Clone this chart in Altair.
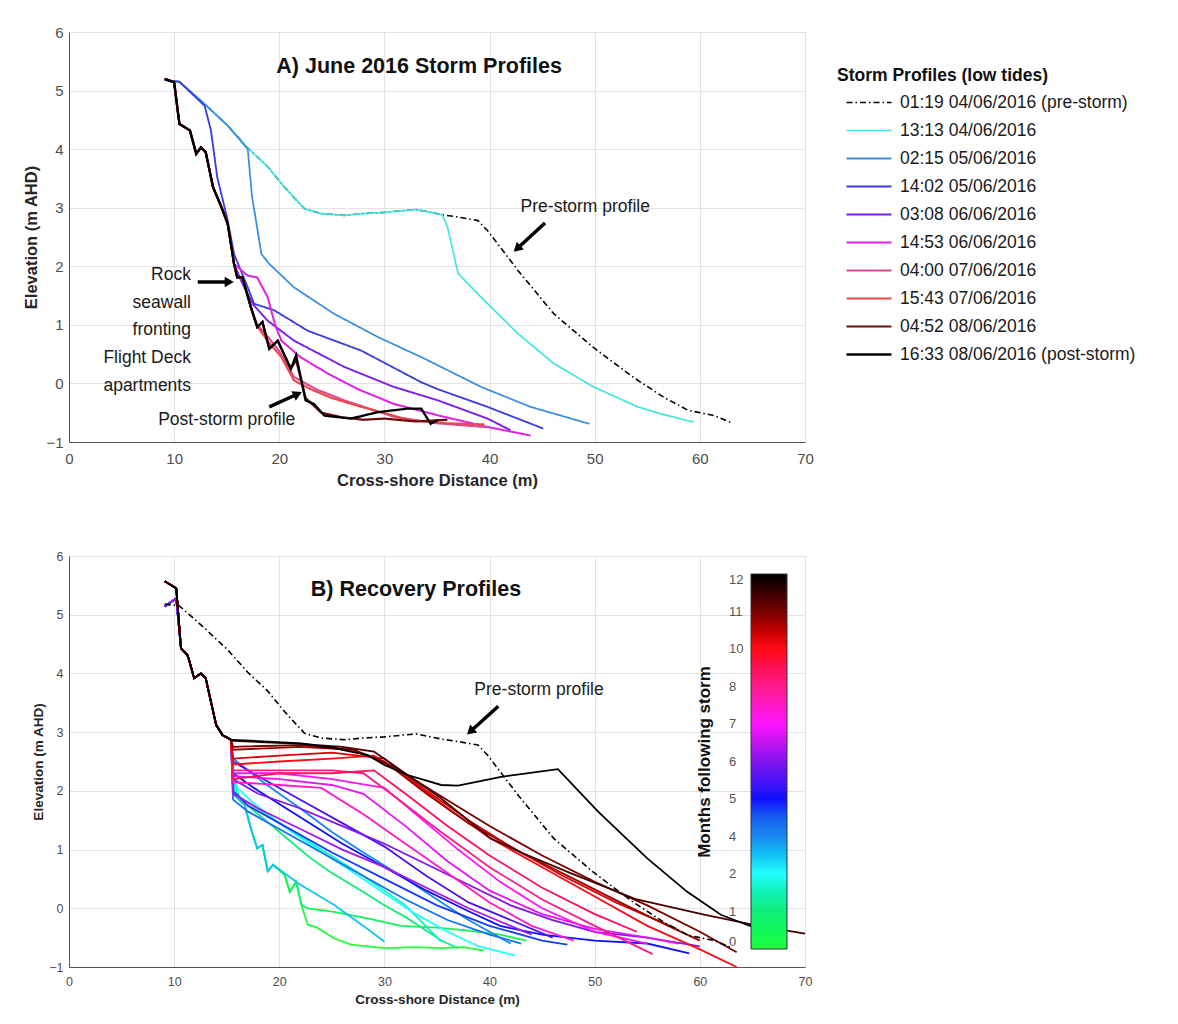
import json
import altair as alt
import pandas as pd

FONT = "Liberation Sans"

# ---------------- Panel A : storm profiles ----------------
storm_labels = ["01:19 04/06/2016 (pre-storm)", "13:13 04/06/2016", "02:15 05/06/2016",
                "14:02 05/06/2016", "03:08 06/06/2016", "14:53 06/06/2016",
                "04:00 07/06/2016", "15:43 07/06/2016", "04:52 08/06/2016",
                "16:33 08/06/2016 (post-storm)"]
storm_colors = ["#000000", "#3fe6e0", "#3a8fe3", "#3a3de0", "#7a1fe6", "#e020e6",
                "#e0449a", "#e84a4a", "#6b0d0d", "#000000"]
storm_dash = [[6, 3, 1.5, 3]] + [[1, 0]] * 9
storm_width = [1.6] + [2.3] * 9

pre_x = [9.1, 10.5, 12.9, 15.1, 17.0, 18.9, 20.5, 22.4, 24.0, 26.2, 28.0, 30.0, 33.0, 35.5,
         37.0, 38.9, 39.8, 42.7, 46.1, 49.9, 53.7, 56.6, 58.9, 61.4, 63.0]
pre_y = [5.18, 5.15, 4.77, 4.40, 4.02, 3.70, 3.35, 2.98, 2.90, 2.87, 2.90, 2.92, 2.97, 2.88,
         2.84, 2.78, 2.61, 1.93, 1.19, 0.61, 0.10, -0.24, -0.46, -0.55, -0.67]

cyan_x = [9.1, 10.5, 12.9, 15.1, 17.0, 18.9, 20.5, 22.4, 24.0, 26.2, 28.0, 30.0, 33.0, 35.5,
          36.0, 37.0, 39.2, 42.7, 46.1, 49.9, 54.1, 56.3, 59.4]
cyan_y = [5.18, 5.15, 4.77, 4.40, 4.02, 3.70, 3.35, 2.98, 2.90, 2.87, 2.90, 2.92, 2.97, 2.88,
          2.67, 1.88, 1.47, 0.85, 0.34, -0.06, -0.40, -0.52, -0.66]

lblue_x = [9.1, 10.5, 12.9, 15.1, 17.0, 17.4, 18.3, 19.05, 21.4, 25.2, 29.4, 33.5, 39.2, 43.9, 49.5]
lblue_y = [5.18, 5.15, 4.77, 4.40, 4.00, 3.20, 2.21, 2.04, 1.64, 1.19, 0.79, 0.45, -0.06, -0.40, -0.69]

blue_x = [9.1, 10.5, 12.9, 13.5, 14.1, 15.1, 15.7, 17.0, 17.6, 19.5, 22.7, 27.8, 33.5, 35.1, 39.8, 45.1]
blue_y = [5.18, 5.15, 4.74, 4.32, 3.52, 2.78, 2.21, 1.64, 1.36, 1.25, 0.90, 0.56, 0.02, -0.10, -0.40, -0.77]

cliff_x = [9.1, 10.0, 10.5, 11.5, 12.1, 12.55, 13.0, 13.7, 14.5, 15.1, 15.7]
cliff_y = [5.20, 5.14, 4.43, 4.32, 3.92, 4.03, 3.95, 3.35, 3.01, 2.72, 2.04]

purple_x = cliff_x + [16.5, 17.5, 18.9, 21.4, 26.2, 30.9, 35.1, 39.8, 42.0]
purple_y = cliff_y + [1.70, 1.35, 1.07, 0.73, 0.28, -0.06, -0.29, -0.60, -0.80]

magenta_x = cliff_x + [17.0, 17.9, 18.9, 19.6, 20.2, 22.0, 24.6, 27.5, 30.9, 35.2, 40.0, 43.9]
magenta_y = cliff_y + [1.84, 1.81, 1.47, 1.00, 0.73, 0.45, 0.17, -0.10, -0.35, -0.55, -0.75, -0.89]

pink_x = cliff_x + [16.0, 16.5, 17.3, 17.9, 18.9, 20.0, 21.4, 23.5, 26.2, 30.9, 35.0, 40.0]
pink_y = cliff_y + [1.81, 1.81, 1.30, 1.00, 0.80, 0.55, 0.11, -0.10, -0.29, -0.57, -0.68, -0.75]

red_x = cliff_x + [16.0, 16.5, 17.3, 17.9, 19.0, 20.2, 21.4, 23.0, 25.0, 27.8, 32.5, 36.0, 39.5]
red_y = cliff_y + [1.81, 1.81, 1.30, 0.98, 0.70, 0.45, 0.05, -0.10, -0.25, -0.40, -0.63, -0.68, -0.70]

dred_x = cliff_x + [16.0, 16.5, 17.3, 17.9, 18.4, 19.05, 19.85, 21.1, 21.6, 22.5, 24.0, 26.0, 28.0,
                    30.0, 33.0, 36.0]
dred_y = cliff_y + [1.81, 1.81, 1.30, 0.96, 1.05, 0.59, 0.73, 0.25, 0.40, -0.25, -0.50, -0.58, -0.62,
                    -0.60, -0.65, -0.62]

black_x = cliff_x + [16.0, 16.5, 17.3, 17.9, 18.4, 19.05, 19.85, 21.1, 21.6, 22.5, 23.3, 24.3, 26.8,
                     29.4, 32.2, 33.5, 34.4, 35.1]
black_y = cliff_y + [1.81, 1.81, 1.30, 0.96, 1.05, 0.59, 0.73, 0.25, 0.48, -0.29, -0.35, -0.55, -0.60,
                     -0.49, -0.43, -0.43, -0.69, -0.62]

storm_x = [pre_x, cyan_x, lblue_x, blue_x, purple_x, magenta_x, pink_x, red_x, dred_x, black_x]
storm_y = [pre_y, cyan_y, lblue_y, blue_y, purple_y, magenta_y, pink_y, red_y, dred_y, black_y]

# annotations panel A (data coordinates)
a_title = ["A) June 2016 Storm Profiles"]
a_title_xy = [33.3, 5.40]
a_note_text = ["Pre-storm profile", "Post-storm profile"]
a_note_x = [49.1, 15.0]
a_note_y = [3.01, -0.63]
seawall_text = ["Rock", "seawall", "fronting", "Flight Deck", "apartments"]
seawall_xy = [11.6, 1.85]
a_arrow_x = [12.24, 19.05, 45.27]
a_arrow_y = [1.73, -0.40, 2.74]
a_arrow_x2 = [15.24, 21.75, 42.61]
a_arrow_y2 = [1.73, -0.18, 2.30]
a_arrow_ang = [90, 65, 227]

# ---------------- Panel B : recovery profiles ----------------
cb_pos = [0, 0.5, 1, 1.5, 2, 2.5, 3, 3.5, 4, 4.5, 5, 5.5, 6, 6.5, 7, 7.5, 8, 8.5, 9, 9.5, 10]
cb_colors = ["#1eff3c", "#10f55a", "#10ee78", "#10f0b4", "#20ffff", "#10c4f2", "#1a88f0",
             "#1560f0", "#1010ff", "#4a12f5", "#8214f0", "#c414f0", "#ff14ff", "#ff18c4",
             "#ff1a8a", "#ff1058", "#ff0a14", "#c00000", "#7a0000", "#3a0000", "#000000"]
cb_labels = ["0", "1", "2", "4", "5", "6", "7", "8", "10", "11", "12"]

b_start_x = [9.1, 10.2, 10.65, 11.3, 11.9, 12.55, 13.0, 14.0, 14.6, 15.4]
b_start_y_hi = [5.57, 5.45, 4.43, 4.30, 3.92, 4.00, 3.92, 3.12, 2.95, 2.87]
b_start_y_lo = [5.14, 5.28, 4.43, 4.30, 3.92, 4.00, 3.92, 3.12, 2.95, 2.87]

b_pos = [0.0, 0.5, 1.0, 1.6, 2.0, 2.5, 3.0, 3.3, 3.7, 4.0, 4.5, 5.0, 5.3,
         5.8, 6.0, 6.5, 7.0, 7.5, 8.0, 8.3, 8.7, 9.0, 9.4, 10.0]
b_tail_x = [
    [15.6, 15.7, 16.7, 17.3, 17.9, 18.4, 18.9, 19.4, 20.5, 21.0, 21.6, 22.1, 22.7, 23.6, 25.2, 26.8, 30.0, 33.0, 35.4, 37.5, 39.5],
    [15.6, 15.7, 16.7, 17.3, 17.9, 18.4, 18.9, 19.4, 20.5, 21.0, 21.6, 22.1, 22.7, 25.2, 28.4, 31.6, 35.0, 38.0, 41.0, 43.5],
    [15.6, 16.0, 17.0, 19.0, 21.0, 23.0, 25.0, 27.8, 30.0, 32.0, 35.4, 37.0],
    [15.6, 16.2, 17.5, 20.0, 24.0, 28.0, 32.0, 35.4],
    [15.6, 16.0, 17.5, 20.0, 22.0, 25.0, 28.0, 30.0, 33.0, 36.0, 39.0, 42.4],
    [15.6, 15.7, 16.7, 17.3, 17.9, 18.4, 18.9, 19.4, 22.0, 25.2, 28.0, 30.0],
    [15.6, 17.0, 19.0, 22.0, 25.0, 28.0, 31.6, 35.0, 38.0, 42.0],
    [15.6, 17.0, 20.0, 24.0, 28.0, 32.0, 36.0, 40.0, 43.0],
    [15.6, 17.0, 20.0, 25.0, 30.0, 35.0, 40.0, 45.0, 47.4],
    [15.6, 18.0, 22.0, 26.0, 30.0, 34.0, 38.0, 41.0, 45.0, 50.0, 55.0, 59.0],
    [15.6, 18.0, 22.0, 26.0, 30.0, 34.0, 38.0, 42.0, 46.0],
    [15.6, 18.0, 22.0, 26.0, 30.0, 34.0, 38.0, 42.0, 46.0, 50.0, 55.0, 60.0],
    [15.6, 18.0, 22.0, 26.0, 30.0, 34.0, 38.0, 42.0, 44.0],
    [15.6, 20.0, 25.0, 28.0, 32.0, 36.0, 40.0, 45.0, 50.0, 55.0, 58.0],
    [15.6, 20.0, 25.0, 30.0, 33.0, 37.0, 41.0, 45.0, 50.0, 55.0],
    [15.6, 20.0, 24.0, 28.0, 32.0, 36.0, 40.0, 44.0, 48.0],
    [15.6, 20.0, 25.0, 28.0, 31.0, 35.0, 40.0, 45.0, 50.0, 55.5],
    [15.6, 20.0, 25.0, 29.0, 32.0, 36.0, 40.0, 45.0, 50.0, 54.0],
    [15.6, 20.0, 25.0, 29.0, 32.0, 36.0, 40.0, 45.0, 50.0, 55.0, 60.0, 63.5],
    [15.6, 20.0, 25.0, 30.0, 34.0, 38.0, 42.0, 47.0, 52.0, 57.8],
    [15.6, 22.0, 27.0, 30.0, 34.0, 38.0, 43.0, 48.0, 53.0, 57.0, 60.0],
    [15.6, 22.0, 27.0, 31.0, 35.0, 40.0, 45.0, 50.0, 55.0, 60.0, 63.5],
    [15.6, 22.0, 26.0, 29.0, 32.2, 35.4, 40.1, 43.0, 47.7, 54.0, 60.4, 65.0, 70.0],
    [15.6, 18.9, 22.1, 25.2, 28.4, 30.0, 32.2, 35.4, 37.0, 41.1, 46.5, 50.3, 55.0, 58.8, 62.0, 64.9],
]
b_tail_y = [
    [2.30, 1.93, 1.76, 1.36, 1.02, 1.08, 0.63, 0.74, 0.57, 0.28, 0.45, 0.06, -0.28, -0.33, -0.51, -0.62, -0.68, -0.66, -0.68, -0.66, -0.72],
    [2.30, 1.93, 1.76, 1.36, 1.02, 1.08, 0.63, 0.74, 0.57, 0.28, 0.45, 0.06, 0.00, -0.06, -0.17, -0.30, -0.33, -0.38, -0.45, -0.55],
    [2.30, 1.95, 1.75, 1.45, 1.15, 0.85, 0.60, 0.30, 0.05, -0.15, -0.55, -0.68],
    [2.20, 1.90, 1.75, 1.45, 1.00, 0.55, 0.05, -0.57],
    [2.40, 2.05, 1.80, 1.45, 1.20, 0.85, 0.50, 0.25, -0.10, -0.40, -0.65, -0.80],
    [2.30, 1.93, 1.76, 1.36, 1.02, 1.08, 0.63, 0.74, 0.40, 0.06, -0.30, -0.57],
    [2.55, 2.35, 2.08, 1.70, 1.30, 0.95, 0.55, 0.15, -0.20, -0.60],
    [1.85, 1.65, 1.35, 0.95, 0.55, 0.15, -0.20, -0.45, -0.60],
    [2.00, 1.75, 1.45, 0.95, 0.50, 0.05, -0.30, -0.55, -0.62],
    [2.30, 2.00, 1.55, 1.10, 0.70, 0.30, -0.05, -0.30, -0.45, -0.55, -0.60, -0.77],
    [2.50, 2.25, 1.85, 1.45, 1.05, 0.55, 0.10, -0.20, -0.50],
    [2.20, 1.95, 1.70, 1.40, 1.10, 0.75, 0.40, 0.05, -0.20, -0.40, -0.50, -0.65],
    [1.95, 1.70, 1.35, 1.00, 0.70, 0.35, 0.00, -0.30, -0.45],
    [2.25, 2.20, 2.10, 1.95, 1.40, 0.80, 0.30, -0.10, -0.35, -0.50, -0.60],
    [2.30, 2.30, 2.20, 2.05, 1.60, 1.00, 0.45, 0.00, -0.40, -0.60],
    [2.15, 2.10, 2.05, 1.60, 1.10, 0.60, 0.10, -0.30, -0.55],
    [2.35, 2.35, 2.35, 2.30, 1.90, 1.35, 0.70, 0.15, -0.30, -0.78],
    [2.20, 2.30, 2.30, 2.35, 1.95, 1.40, 0.90, 0.35, -0.10, -0.40],
    [2.45, 2.50, 2.55, 2.60, 2.25, 1.70, 1.20, 0.70, 0.20, -0.30, -0.70, -1.00],
    [2.55, 2.60, 2.65, 2.55, 2.00, 1.50, 1.05, 0.55, 0.10, -0.35],
    [2.70, 2.75, 2.70, 2.50, 1.95, 1.45, 0.95, 0.50, 0.05, -0.30, -0.55],
    [2.75, 2.78, 2.70, 2.40, 1.95, 1.40, 0.90, 0.45, 0.05, -0.40, -0.75],
    [2.85, 2.80, 2.75, 2.67, 2.27, 1.87, 1.19, 0.95, 0.60, 0.15, -0.11, -0.28, -0.43],
    [2.87, 2.84, 2.81, 2.73, 2.61, 2.44, 2.27, 2.10, 2.09, 2.24, 2.37, 1.65, 0.85, 0.28, -0.11, -0.31],
]

b_title = ["B) Recovery Profiles"]
b_title_xy = [33.0, 5.42]
b_note_text = ["Pre-storm profile"]
b_note_xy = [44.7, 3.71]
b_arrow_x = [40.83]
b_arrow_y = [3.44]
b_arrow_x2 = [38.17]
b_arrow_y2 = [3.01]
b_arrow_ang = [228]

# ---------------- build tables ----------------
rows_a = []
for lab, xs, ys in zip(storm_labels, storm_x, storm_y):
    for i, (x, y) in enumerate(zip(xs, ys)):
        rows_a.append({"series": lab, "x": x, "y": y, "i": i})
df_a = pd.DataFrame(rows_a)

rows_b = []
for k, (p, tx, ty) in enumerate(zip(b_pos, b_tail_x, b_tail_y)):
    sy = b_start_y_hi if p >= 5.5 else b_start_y_lo
    xs = b_start_x + tx
    ys = sy + ty
    for i, (x, y) in enumerate(zip(xs, ys)):
        rows_b.append({"pid": k, "pos": p, "x": x, "y": y, "i": i})
df_b = pd.DataFrame(rows_b)
df_pre = pd.DataFrame({"x": pre_x, "y": pre_y, "i": list(range(len(pre_x)))})

# ---------------- encodings ----------------
def x_enc(lab_size, title_size, lab_pad, title_pad):
    return alt.X("x:Q", scale=alt.Scale(domain=[0, 70], nice=False, zero=False),
                 axis=alt.Axis(values=list(range(0, 71, 10)), title="Cross-shore Distance (m)",
                               format="d", labelFontSize=lab_size, titleFontSize=title_size,
                               labelPadding=lab_pad, titlePadding=title_pad,
                               labelFlush=False, ticks=False))

def y_enc(lab_size, title_size, lab_pad, title_x):
    return alt.Y("y:Q", scale=alt.Scale(domain=[-1, 6], nice=False, zero=False),
                 axis=alt.Axis(values=list(range(-1, 7)), title="Elevation (m AHD)",
                               format="d", labelFontSize=lab_size, titleFontSize=title_size,
                               labelPadding=lab_pad, titleX=title_x,
                               labelFlush=False, ticks=False))

xa = x_enc(15, 16.5, 9, 6)
ya = y_enc(15, 16.5, 6, -30)
xb = x_enc(12.5, 13.5, 8, 5)
yb = y_enc(12.5, 13.5, 6, -24)

leg_a = alt.Legend(title="Storm Profiles (low tides)", orient="none", legendX=768, legendY=35,
                   titleFontSize=17.5, titleFontWeight="bold", titleColor="#111", titleFont=FONT,
                   titleLimit=600, titlePadding=4,
                   labelFontSize=17.5, labelColor="#1a1a1a", labelFont=FONT,
                   labelLimit=600, symbolType="stroke", symbolSize=2025, symbolStrokeWidth=3.2,
                   symbolOffset=8, labelOffset=7, clipHeight=28, rowPadding=0, padding=0)

lines_a = alt.Chart(df_a).mark_line().encode(
    x=xa, y=ya,
    color=alt.Color("series:N", scale=alt.Scale(domain=storm_labels, range=storm_colors), legend=leg_a),
    strokeDash=alt.StrokeDash("series:N", scale=alt.Scale(domain=storm_labels, range=storm_dash), legend=leg_a),
    strokeWidth=alt.StrokeWidth("series:N", scale=alt.Scale(domain=storm_labels, range=storm_width), legend=None),
    order="i:Q",
)

title_a = alt.Chart(pd.DataFrame({"t": a_title, "x": [a_title_xy[0]], "y": [a_title_xy[1]]})).mark_text(
    font=FONT, fontSize=21.5, fontWeight="bold", color="#111", align="center", baseline="middle"
).encode(x=xa, y=ya, text="t:N")

notes_a = alt.Chart(pd.DataFrame({"t": a_note_text, "x": a_note_x, "y": a_note_y})).mark_text(
    font=FONT, fontSize=17.5, color="#1a1a1a", align="center", baseline="middle"
).encode(x=xa, y=ya, text="t:N")

seawall = alt.Chart(pd.DataFrame({"t": [seawall_text], "x": [seawall_xy[0]], "y": [seawall_xy[1]]})).mark_text(
    font=FONT, fontSize=17.5, color="#1a1a1a", align="right", baseline="middle", lineHeight=27.7
).encode(x=xa, y=ya, text="t")

arr_a_df = pd.DataFrame({"x": a_arrow_x, "y": a_arrow_y, "x2": a_arrow_x2, "y2": a_arrow_y2, "ang": a_arrow_ang})
arr_a_line = alt.Chart(arr_a_df).mark_rule(color="#000", strokeWidth=3.5).encode(
    x=xa, y=ya, x2="x2:Q", y2="y2:Q")
arr_a_head = alt.Chart(arr_a_df).mark_point(shape="triangle-up", filled=True, color="#000", size=110, opacity=1).encode(
    x=alt.X("x2:Q", scale=alt.Scale(domain=[0, 70], nice=False)),
    y=alt.Y("y2:Q", scale=alt.Scale(domain=[-1, 6], nice=False)),
    angle=alt.Angle("ang:Q", scale=None))

top = alt.layer(lines_a, title_a, notes_a, seawall, arr_a_line, arr_a_head).properties(width=736, height=410)

# ---------------- panel B ----------------
cb_labels_padded = [s.rjust(2, "\u2007") for s in cb_labels]
leg_b = alt.Legend(title="Months following storm", orient="none", legendX=627, legendY=18,
                   direction="vertical", gradientLength=375, gradientThickness=36,
                   gradientStrokeColor="#333", gradientStrokeWidth=1,
                   titleOrient="left", titleAnchor="middle", titleFontSize=17, titleFontWeight="bold",
                   titleColor="#111", titleFont=FONT, titlePadding=36, titleLimit=600,
                   labelBaseline="middle", labelOffset={"expr": "-58"}, labelFontSize=13,
                   labelColor="#555", labelFont=FONT, labelOverlap=False,
                   values=list(range(11)),
                   labelExpr=json.dumps(cb_labels_padded) + "[round(datum.value)]", padding=0)

lines_b = alt.Chart(df_b).mark_line(strokeWidth=1.8).encode(
    x=xb, y=yb,
    color=alt.Color("pos:Q", scale=alt.Scale(domain=cb_pos, range=cb_colors, interpolate="rgb"), legend=leg_b),
    detail="pid:N",
    order="i:Q",
)
pre_b = alt.Chart(df_pre).mark_line(strokeWidth=1.6, color="#000", strokeDash=[6, 3, 1.5, 3]).encode(
    x=xb, y=yb, order="i:Q")

title_b = alt.Chart(pd.DataFrame({"t": b_title, "x": [b_title_xy[0]], "y": [b_title_xy[1]]})).mark_text(
    font=FONT, fontSize=21.5, fontWeight="bold", color="#111", align="center", baseline="middle"
).encode(x=xb, y=yb, text="t:N")
notes_b = alt.Chart(pd.DataFrame({"t": b_note_text, "x": [b_note_xy[0]], "y": [b_note_xy[1]]})).mark_text(
    font=FONT, fontSize=17.5, color="#1a1a1a", align="center", baseline="middle"
).encode(x=xb, y=yb, text="t:N")
arr_b_df = pd.DataFrame({"x": b_arrow_x, "y": b_arrow_y, "x2": b_arrow_x2, "y2": b_arrow_y2, "ang": b_arrow_ang})
arr_b_line = alt.Chart(arr_b_df).mark_rule(color="#000", strokeWidth=3.5).encode(
    x=xb, y=yb, x2="x2:Q", y2="y2:Q")
arr_b_head = alt.Chart(arr_b_df).mark_point(shape="triangle-up", filled=True, color="#000", size=110, opacity=1).encode(
    x=alt.X("x2:Q", scale=alt.Scale(domain=[0, 70], nice=False)),
    y=alt.Y("y2:Q", scale=alt.Scale(domain=[-1, 6], nice=False)),
    angle=alt.Angle("ang:Q", scale=None))

bottom = alt.layer(lines_b, pre_b, title_b, notes_b, arr_b_line, arr_b_head).properties(width=736, height=411)

chart = alt.vconcat(top, bottom, spacing=60).resolve_scale(
    color="independent", strokeDash="independent", strokeWidth="independent"
).properties(
    padding={"left": 22, "top": 24, "right": 4, "bottom": 4},
    background="#ffffff",
).configure_view(
    stroke="#555", strokeWidth=1
).configure_axis(
    labelFont=FONT, titleFont=FONT, labelColor="#4d4d4d", titleColor="#262626",
    titleFontWeight="bold", gridColor="#e3e3e3", gridWidth=1, domainColor="#555", domainWidth=1
)

chart.save("out.html", embed_options={"renderer": "svg", "actions": False})
